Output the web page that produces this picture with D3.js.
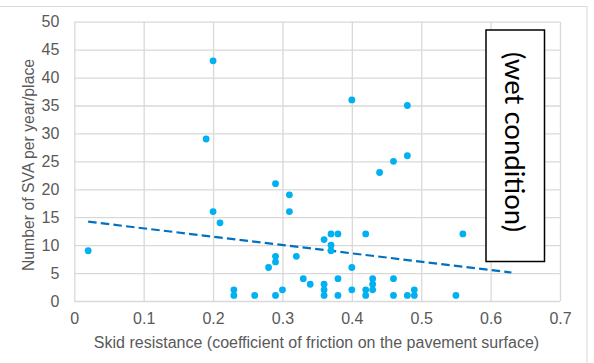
<!DOCTYPE html>
<html>
<head>
<meta charset="utf-8">
<script src="https://cdn.jsdelivr.net/npm/d3@7"></script>
<style>
  html, body { margin: 0; padding: 0; background: #fff; }
  svg { display: block; }
</style>
</head>
<body>
<svg id="chart" width="594" height="363"></svg>
<script>
// Skid resistance vs. number of SVA per year/place (wet condition)
const skidResistance = [
  0.02, 0.19, 0.20, 0.20, 0.21, 0.23, 0.23, 0.26, 0.28, 0.29,
  0.29, 0.29, 0.29, 0.30, 0.31, 0.31, 0.32, 0.33, 0.34, 0.36,
  0.36, 0.36, 0.36, 0.37, 0.37, 0.37, 0.38, 0.38, 0.38, 0.40,
  0.40, 0.40, 0.42, 0.42, 0.42, 0.43, 0.43, 0.43, 0.44, 0.46,
  0.46, 0.46, 0.48, 0.48, 0.48, 0.49, 0.49, 0.55, 0.56
];
const svaCount = [
  9, 29, 43, 16, 14, 2, 1, 1, 6, 21,
  8, 7, 1, 2, 19, 16, 8, 4, 3, 11,
  3, 2, 1, 12, 10, 9, 12, 4, 1, 36,
  6, 2, 12, 2, 1, 4, 3, 2, 23, 25,
  4, 1, 35, 26, 1, 2, 1, 1, 12
];

// Linear trend line end points
const trendX = [0.02, 0.63];
const trendY = [14.2, 5.1];

const xTickValues = [0, 0.1, 0.2, 0.3, 0.4, 0.5, 0.6, 0.7];
const xTickLabels = ["0", "0.1", "0.2", "0.3", "0.4", "0.5", "0.6", "0.7"];
const yTickValues = [0, 5, 10, 15, 20, 25, 30, 35, 40, 45, 50];
const yTickLabels = ["0", "5", "10", "15", "20", "25", "30", "35", "40", "45", "50"];

const xTitle = "Skid resistance (coefficient of friction on the pavement surface)";
const yTitle = "Number of SVA per year/place";
const noteText = "(wet condition)";

const svg = d3.select("#chart");
const plotLeft = 74.3, plotRight = 560, plotTop = 21.7, plotBottom = 301;

const x = d3.scaleLinear().domain([0, 0.7]).range([plotLeft, plotRight]);
const y = d3.scaleLinear().domain([0, 50]).range([plotBottom, plotTop]);

const gridColor = "#d9d9d9";
const textColor = "#595959";
const font = "'Liberation Sans', Arial, sans-serif";

// outer chart frame
svg.append("rect")
  .attr("x", -1).attr("y", 6.5)
  .attr("width", 588).attr("height", 400)
  .attr("fill", "none").attr("stroke", gridColor).attr("stroke-width", 1);

// gridlines
const gx = svg.append("g")
  .attr("transform", `translate(0,${plotBottom})`)
  .call(d3.axisBottom(x).tickValues(xTickValues).tickSize(-(plotBottom - plotTop)).tickFormat(""));
const gy = svg.append("g")
  .attr("transform", `translate(${plotLeft},0)`)
  .call(d3.axisLeft(y).tickValues(yTickValues).tickSize(-(plotRight - plotLeft)).tickFormat(""));
[gx, gy].forEach(g => {
  g.select(".domain").remove();
  g.selectAll(".tick line").attr("stroke", gridColor).attr("stroke-width", 1.3);
});

// tick labels
const xLab = svg.append("g")
  .attr("transform", `translate(0,${plotBottom})`)
  .call(d3.axisBottom(x).tickValues(xTickValues).tickSize(0).tickPadding(12)
    .tickFormat((d, i) => xTickLabels[i]));
const yLab = svg.append("g")
  .attr("transform", `translate(${plotLeft},0)`)
  .call(d3.axisLeft(y).tickValues(yTickValues).tickSize(0).tickPadding(15)
    .tickFormat((d, i) => yTickLabels[i]));
[xLab, yLab].forEach(g => {
  g.select(".domain").remove();
  g.selectAll("text").attr("fill", textColor).style("font-family", font).style("font-size", "16px");
});

// axis titles
svg.append("text")
  .attr("x", (95 + 538) / 2).attr("y", 348)
  .attr("text-anchor", "middle")
  .attr("fill", textColor)
  .style("font-family", font).style("font-size", "16px")
  .text(xTitle);
svg.append("text")
  .attr("transform", `translate(33.5,165) rotate(-90)`)
  .attr("text-anchor", "middle")
  .attr("fill", textColor)
  .style("font-family", font).style("font-size", "15.8px")
  .text(yTitle);

// trend line
svg.append("line")
  .attr("x1", x(trendX[0])).attr("y1", y(trendY[0]))
  .attr("x2", x(trendX[1])).attr("y2", y(trendY[1]))
  .attr("stroke", "#0070C0").attr("stroke-width", 2.2)
  .attr("stroke-dasharray", "8.5,4.2");

// data points
svg.append("g").selectAll("circle")
  .data(skidResistance.map((v, i) => [v, svaCount[i]]))
  .join("circle")
  .attr("cx", d => x(d[0])).attr("cy", d => y(d[1]))
  .attr("r", 3.4)
  .attr("fill", "#00B0F0");

// annotation box
svg.append("rect")
  .attr("x", 486).attr("y", 30)
  .attr("width", 58.5).attr("height", 231.5)
  .attr("fill", "#fff").attr("stroke", "#000").attr("stroke-width", 1.5);
svg.append("text")
  .attr("transform", `translate(515,142) rotate(90)`)
  .attr("text-anchor", "middle")
  .attr("dominant-baseline", "central")
  .attr("fill", "#000")
  .style("font-family", "Lato, 'Open Sans', sans-serif").style("font-size", "27.5px")
  .text(noteText);
</script>
</body>
</html>
